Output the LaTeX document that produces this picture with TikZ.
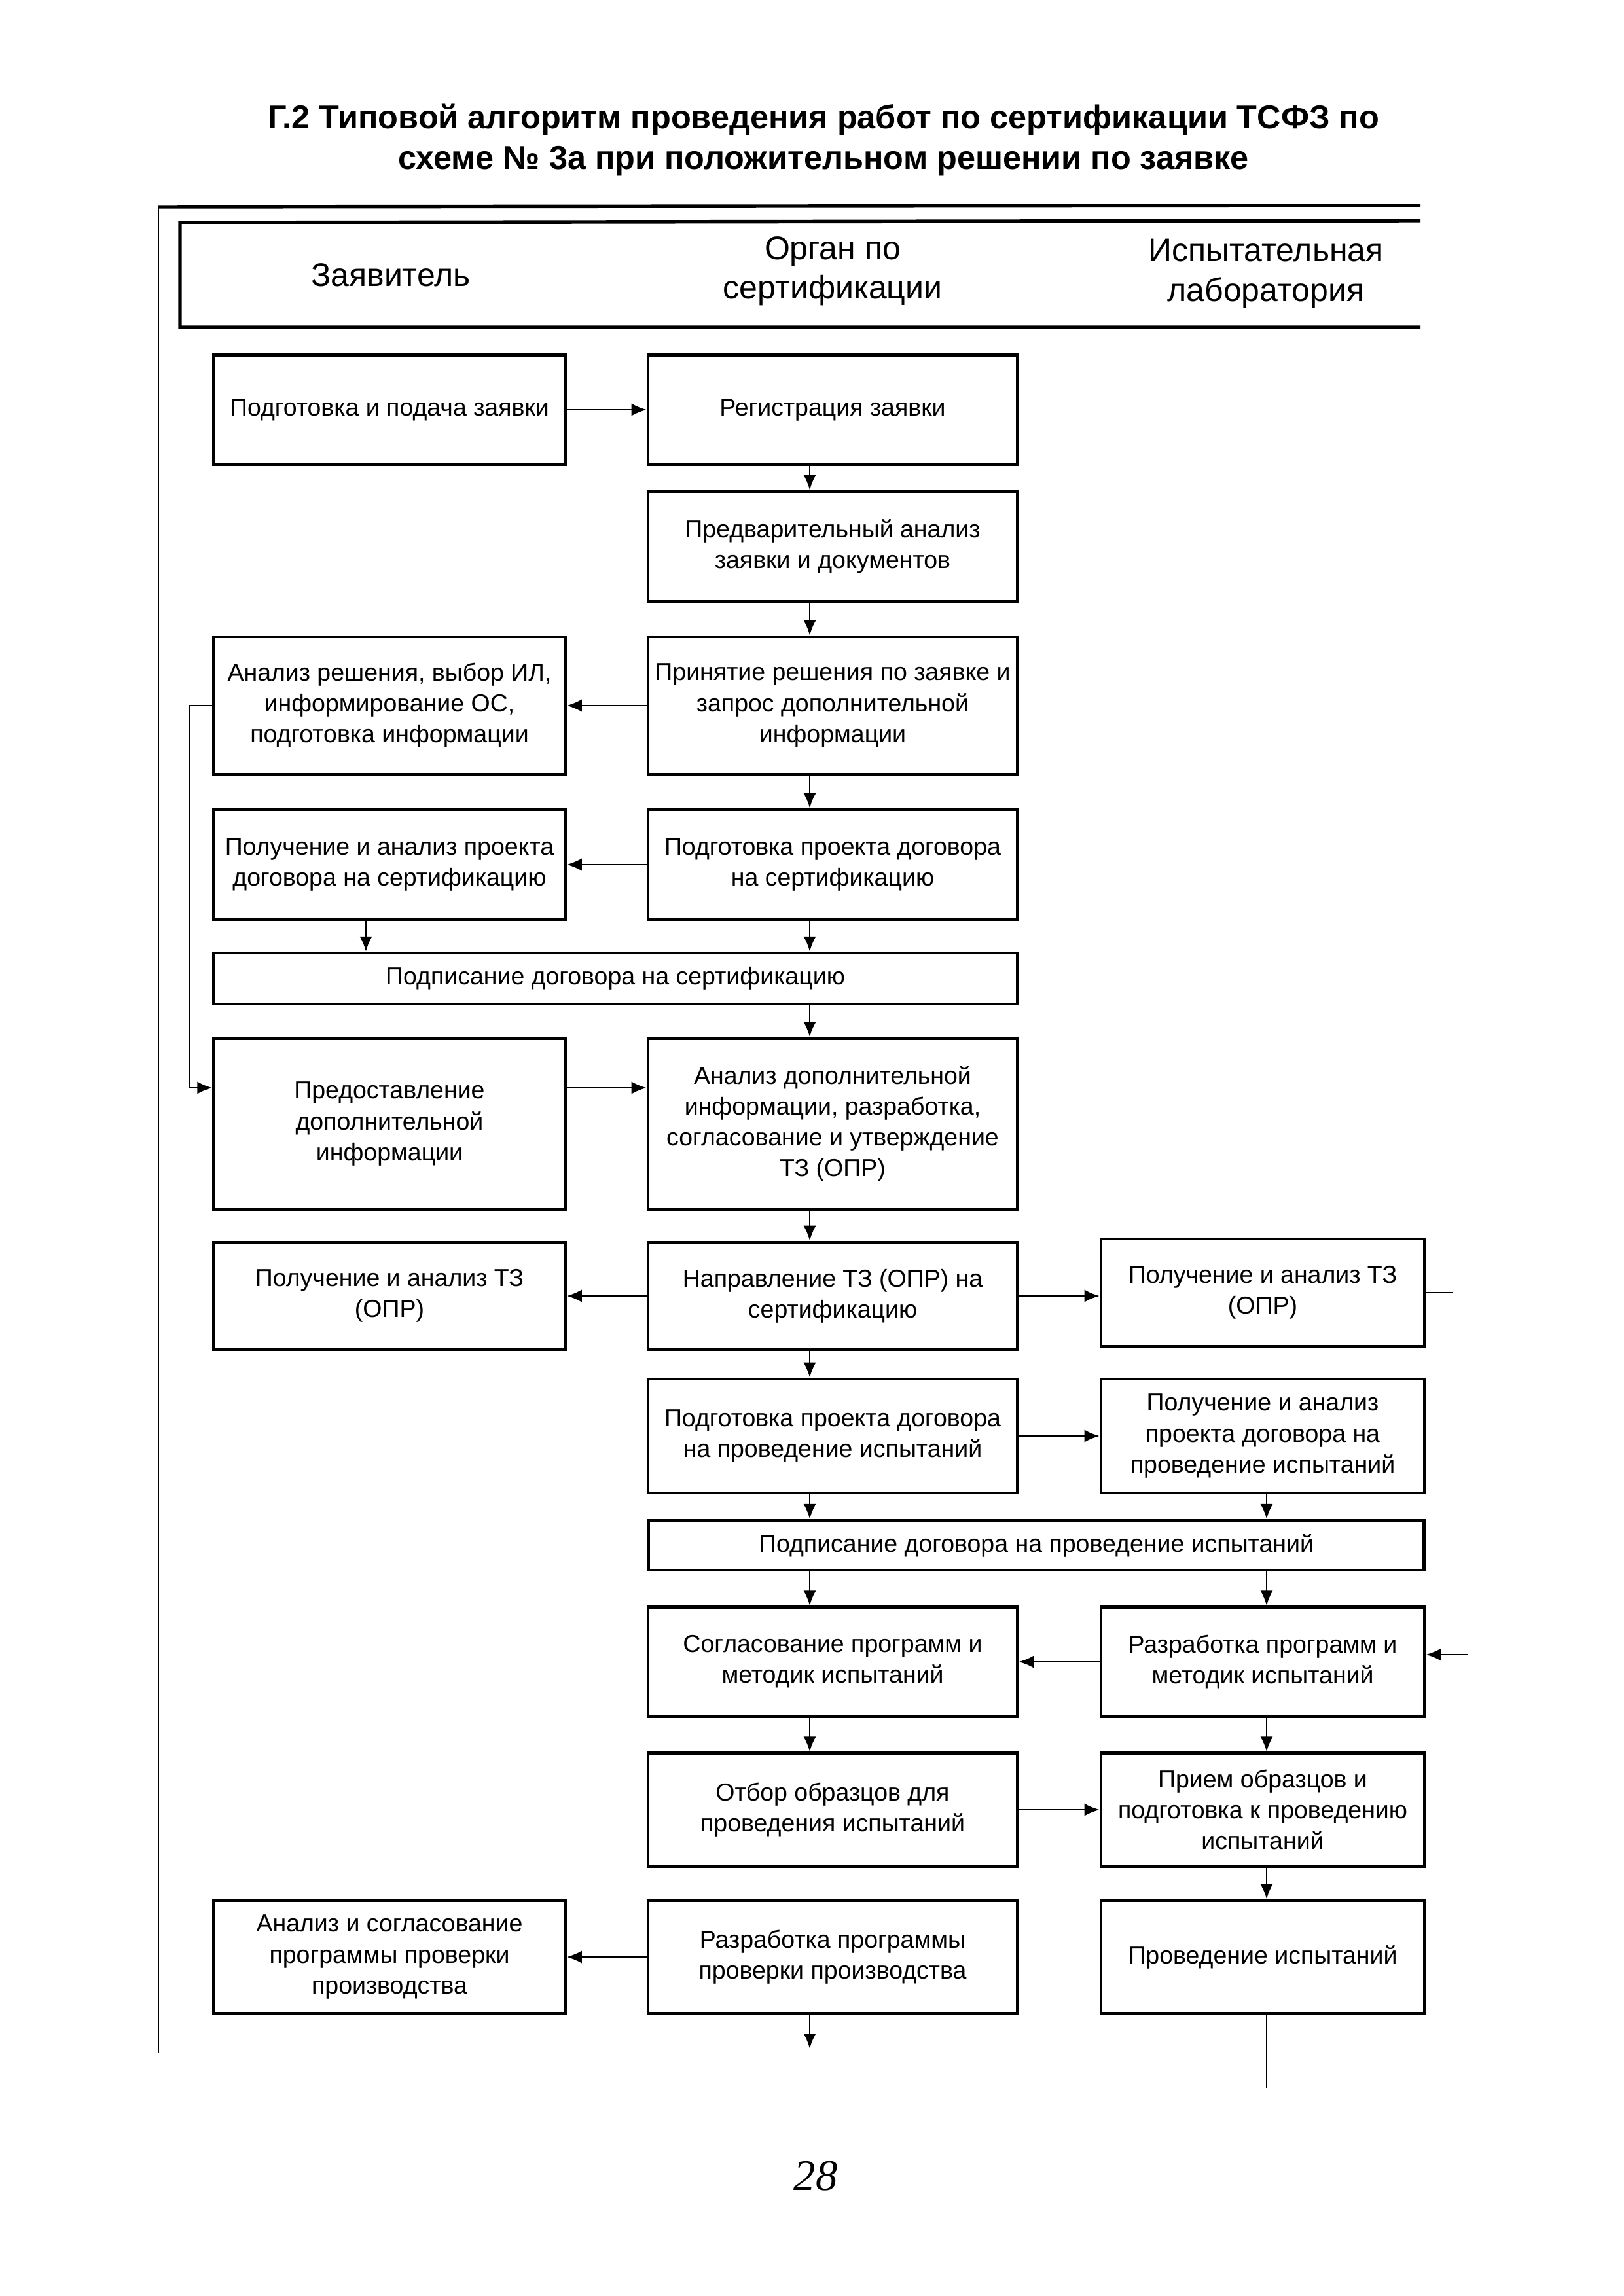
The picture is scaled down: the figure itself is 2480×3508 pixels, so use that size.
\documentclass[tikz,border=0pt]{standalone}
\usepackage{fontspec}
\setmainfont{Liberation Sans}
\newfontfamily\pnfont{Liberation Serif}
\usetikzlibrary{arrows.meta}
\begin{document}
\begin{tikzpicture}[x=0.24pt,y=-0.24pt,
  box/.style={draw, line width=1.1pt, align=center, inner sep=2pt,
    font=\fontsize{9}{11.3}\selectfont},
  lcol/.style={box, minimum width=128.9pt},
  mcol/.style={box, minimum width=135.4pt},
  rcol/.style={box, minimum width=118.6pt},
  conn/.style={line width=0.6pt},
  arr/.style={conn, -{Latex[length=5.5pt,width=4.6pt]}},
  frame/.style={line width=1.3pt},
  hdrtext/.style={align=center, font=\fontsize{12}{14.5}\selectfont}]
\useasboundingbox (0,0) rectangle (2480,3508);

% title
\node[align=center, font=\fontsize{12.1}{15}\selectfont\bfseries] (title) at (1258,214)
  {Г.2 Типовой алгоритм проведения работ по сертификации ТСФЗ по\\схеме № 3а при положительном решении по заявке};

% frame and header
\draw[frame] (2170,314) -- (242,316);
\draw[line width=0.7pt] (242,316) -- (242,3137);
\draw[frame] (2170,337) -- (275,340) -- (275,500) -- (2170,500);
\node[hdrtext] (h1) at (597,420) {Заявитель};
\node[hdrtext] (h2) at (1272,414) {Орган по\\сертификации};
\node[hdrtext] (h3) at (1934,418) {Испытательная\\лаборатория};

% x positions of vertical connectors
\coordinate (lx) at (559,0);
\coordinate (mx) at (1237,0);
\coordinate (rx) at (1935,0);

% row 1
\node[lcol, minimum height=40.1pt] (L1) at (595,626) {Подготовка и подача заявки};
\node[mcol, minimum height=40.1pt] (M1) at (1272,626) {Регистрация заявки};
% row 2
\node[mcol, minimum height=40.3pt] (M2) at (1272,835) {Предварительный анализ\\заявки и документов};
% row 3
\node[lcol, minimum height=50.4pt] (L3) at (595,1078) {Анализ решения, выбор ИЛ,\\информирование ОС,\\подготовка информации};
\node[mcol, minimum height=50.4pt] (M3) at (1272,1078) {Принятие решения по заявке и\\запрос дополнительной\\информации};
% row 4
\node[lcol, minimum height=40.3pt] (L4) at (595,1321) {Получение и анализ проекта\\договора на сертификацию};
\node[mcol, minimum height=40.3pt] (M4) at (1272,1321) {Подготовка проекта договора\\на сертификацию};
% row 5
\node[box, minimum width=294.7pt, minimum height=18.7pt] (W5) at (940,1495) {Подписание договора на сертификацию};
% row 6
\node[lcol, minimum height=62.6pt] (L6) at (595,1717) {Предоставление\\дополнительной\\информации};
\node[mcol, minimum height=62.6pt] (M6) at (1272,1717) {Анализ дополнительной\\информации, разработка,\\согласование и утверждение\\ТЗ (ОПР)};
% row 7
\node[lcol, minimum height=39.4pt] (L7) at (595,1980) {Получение и анализ ТЗ\\(ОПР)};
\node[mcol, minimum height=39.4pt] (M7) at (1272,1980) {Направление ТЗ (ОПР) на\\сертификацию};
\node[rcol, minimum height=39.4pt] (R7) at (1929,1975) {Получение и анализ ТЗ\\(ОПР)};
% row 8
\node[mcol, minimum height=41.8pt] (M8) at (1272,2194) {Подготовка проекта договора\\на проведение испытаний};
\node[rcol, minimum height=41.8pt] (R8) at (1929,2194) {Получение и анализ\\проекта договора на\\проведение испытаний};
% row 9
\node[box, minimum width=284.5pt, minimum height=18.2pt] (W9) at (1583,2361) {Подписание договора на проведение испытаний};
% row 10
\node[mcol, minimum height=40.1pt] (M10) at (1272,2539) {Согласование программ и\\методик испытаний};
\node[rcol, minimum height=40.1pt] (R10) at (1929,2539) {Разработка программ и\\методик испытаний};
% row 11
\node[mcol, minimum height=41.5pt] (M11) at (1272,2765) {Отбор образцов для\\проведения испытаний};
\node[rcol, minimum height=41.5pt] (R11) at (1929,2765) {Прием образцов и\\подготовка к проведению\\испытаний};
% row 12
\node[lcol, minimum height=41.3pt] (L12) at (595,2990) {Анализ и согласование\\программы проверки\\производства};
\node[mcol, minimum height=41.3pt] (M12) at (1272,2990) {Разработка программы\\проверки производства};
\node[rcol, minimum height=41.3pt] (R12) at (1929,2990) {Проведение испытаний};

% helper coordinates
\coordinate (fb) at (290,1662);
\coordinate (r7end) at (2220,1975);
\coordinate (r10in) at (2242,2528);
\coordinate (m12end) at (1237,3130);
\coordinate (r12end) at (1935,3190);

% horizontal connectors
\draw[arr] (L1.east) -- (M1.west);
\draw[arr] (M3.west) -- (L3.east);
\draw[arr] (M4.west) -- (L4.east);
\draw[arr] (L6.east |- fb) -- (M6.west |- fb);
\draw[arr] (M7.west) -- (L7.east |- M7.west);
\draw[arr] (M7.east) -- (R7.west |- M7.east);
\draw[arr] (M8.east) -- (R8.west);
\draw[arr] (R10.west) -- (M10.east);
\draw[arr] (M11.east) -- (R11.west);
\draw[arr] (M12.west) -- (L12.east);

% feedback loop
\draw[arr] (L3.west) -| (fb) -- (L6.west |- fb);

% vertical connectors
\draw[arr] (M1.south -| mx) -- (M2.north -| mx);
\draw[arr] (M2.south -| mx) -- (M3.north -| mx);
\draw[arr] (M3.south -| mx) -- (M4.north -| mx);
\draw[arr] (M4.south -| mx) -- (W5.north -| mx);
\draw[arr] (L4.south -| lx) -- (W5.north -| lx);
\draw[arr] (W5.south -| mx) -- (M6.north -| mx);
\draw[arr] (M6.south -| mx) -- (M7.north -| mx);
\draw[arr] (M7.south -| mx) -- (M8.north -| mx);
\draw[arr] (M8.south -| mx) -- (W9.north -| mx);
\draw[arr] (R8.south -| rx) -- (W9.north -| rx);
\draw[arr] (W9.south -| mx) -- (M10.north -| mx);
\draw[arr] (W9.south -| rx) -- (R10.north -| rx);
\draw[arr] (M10.south -| mx) -- (M11.north -| mx);
\draw[arr] (R10.south -| rx) -- (R11.north -| rx);
\draw[arr] (R11.south -| rx) -- (R12.north -| rx);
\draw[arr] (M12.south -| m12end) -- (m12end);
\draw[conn] (R12.south -| r12end) -- (r12end);

% stubs at the right edge
\draw[conn] (R7.east) -- (R7.east -| r7end);
\draw[arr] (r10in) -- (R10.east |- r10in);

% page number
\node[font=\pnfont\itshape\fontsize{16}{18}\selectfont] (pn) at (1246,3325) {28};
\end{tikzpicture}
\end{document}
